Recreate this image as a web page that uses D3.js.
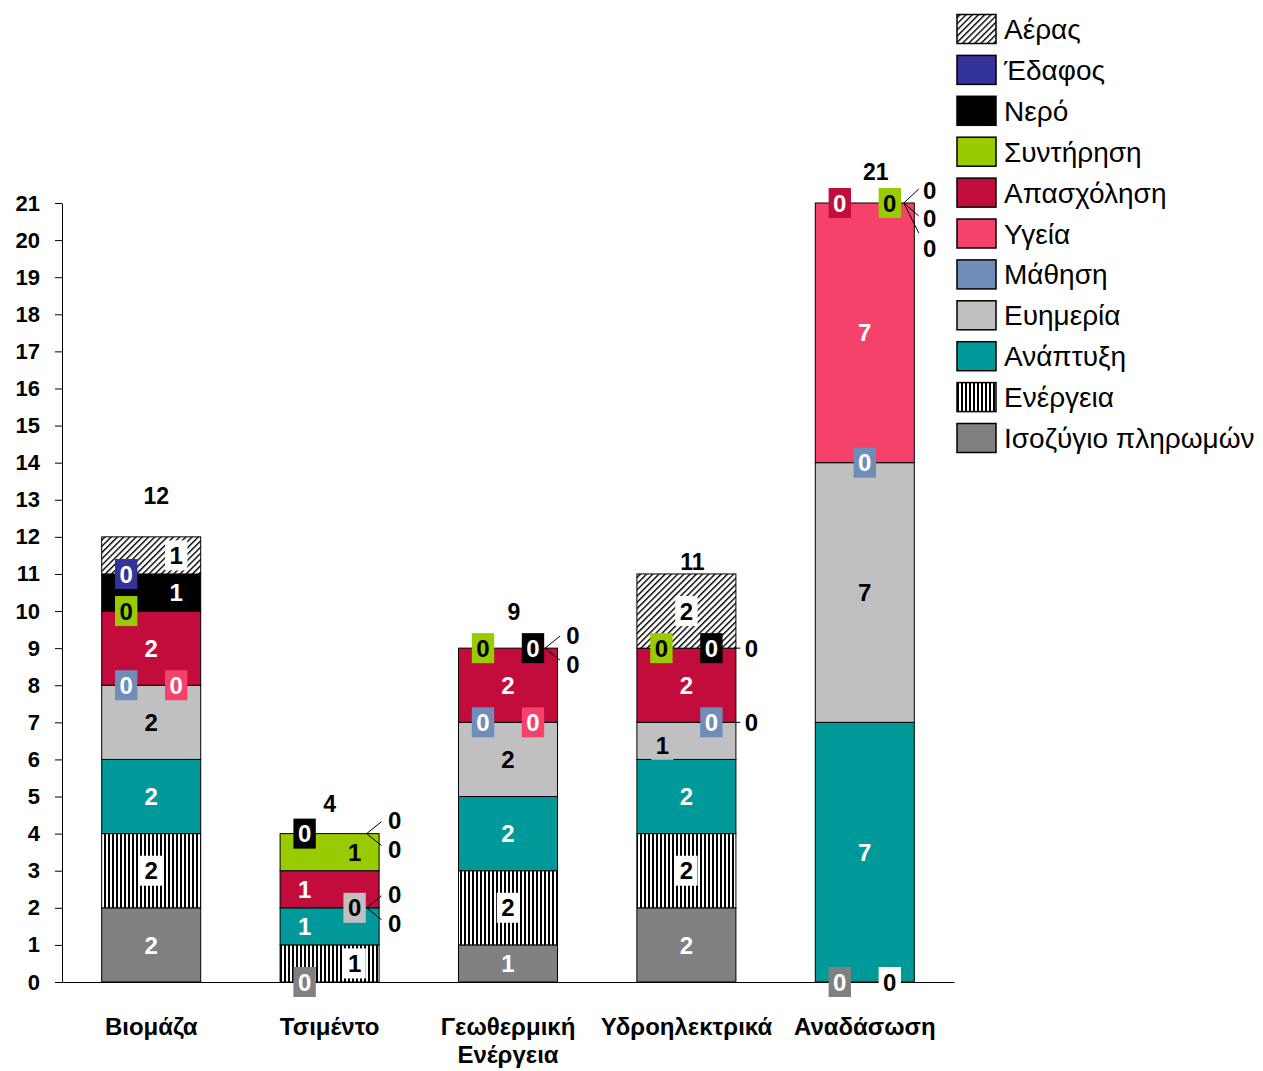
<!DOCTYPE html>
<html>
<head>
<meta charset="utf-8">
<script src="https://cdn.jsdelivr.net/npm/d3@7"></script>
<style>
  html, body { margin: 0; padding: 0; background: #fff; }
  svg { display: block; font-family: Arial, "Liberation Sans", Helvetica, sans-serif; }
</style>
</head>
<body>
<svg id="chart" width="1263" height="1071"></svg>
<script>
// ---- data -------------------------------------------------------------
const categories = ["Βιομάζα", "Τσιμέντο", "Γεωθερμική Ενέργεια", "Υδροηλεκτρικά", "Αναδάσωση"];

// stack order, bottom to top
const seriesNames = ["Ισοζύγιο πληρωμών", "Ενέργεια", "Ανάπτυξη", "Ευημερία", "Μάθηση",
                     "Υγεία", "Απασχόληση", "Συντήρηση", "Νερό", "Έδαφος", "Αέρας"];

const balanceOfPayments = [2, 0, 1, 2, 0];
const energy            = [2, 1, 2, 2, 0];
const development       = [2, 1, 2, 2, 7];
const wellbeing         = [2, 0, 2, 1, 7];
const learning          = [0, 0, 0, 0, 0];
const health            = [0, 0, 0, 0, 7];
const employment        = [2, 1, 2, 2, 0];
const maintenance       = [0, 1, 0, 0, 0];
const water             = [1, 0, 0, 0, 0];
const soil              = [0, 0, 0, 0, 0];
const air               = [1, 0, 0, 2, 0];

const seriesValues = [balanceOfPayments, energy, development, wellbeing, learning,
                      health, employment, maintenance, water, soil, air];

const yTicks = d3.range(0, 22);

// ---- styles -----------------------------------------------------------
const fills = {
  "Ισοζύγιο πληρωμών": "#808080",
  "Ενέργεια": "url(#vstripes)",
  "Ανάπτυξη": "#009999",
  "Ευημερία": "#c0c0c0",
  "Μάθηση": "#6f8db9",
  "Υγεία": "#f4426b",
  "Απασχόληση": "#c20c3c",
  "Συντήρηση": "#99cc00",
  "Νερό": "#000000",
  "Έδαφος": "#333399",
  "Αέρας": "url(#hatch)"
};
// background behind a value label (patterned series get white)
const labelBg = Object.fromEntries(seriesNames.map(s =>
  [s, fills[s].startsWith("url") ? "#ffffff" : fills[s]]));
const labelInk = {
  "Ισοζύγιο πληρωμών": "#fff", "Ενέργεια": "#000", "Ανάπτυξη": "#fff", "Ευημερία": "#000",
  "Μάθηση": "#fff", "Υγεία": "#fff", "Απασχόληση": "#fff", "Συντήρηση": "#000",
  "Νερό": "#fff", "Έδαφος": "#fff", "Αέρας": "#000"
};

// where each value label sits, per category, in stack order
const spots = {
  c:   { dx: 0,   dy: 0 },
  l:   { dx: -25, dy: 0 },
  l4:  { dx: -24, dy: 4 },
  r:   { dx: 25,  dy: 0 },
  f2a: { dx: 65, dy: -13, lead: [37, 0, 52, -12] },
  f2b: { dx: 65, dy: 16,  lead: [37, 0, 52, 12] },
  h:   { dx: 65, dy: 0,   lead: [49, 0, 54, 0] },
  f3a: { dx: 65, dy: -13, lead: [39, 0, 54, -14] },
  f3b: { dx: 65, dy: 15,  lead: [39, 0, 54, 13] },
  f3c: { dx: 65, dy: 45,  lead: [39, 0, 54, 30] }
};
const labelSpots = [
  ["c", "c", "c", "c", "l", "r", "c", "l", "r", "l", "r"],
  ["l", "r", "l", "r", "f2a", "f2b", "l", "r", "l", "f2a", "f2b"],
  ["c", "c", "c", "c", "l", "r", "c", "l", "r", "f2a", "f2b"],
  ["c", "c", "c", "l4", "r", "h", "c", "l", "r", "h", "c"],
  ["l", "r", "c", "c", "c", "c", "l", "r", "f3a", "f3b", "f3c"]
];
// offsets of the total labels from the bar's top centre
const totalLift = [41, 30, 36, 12, 31];
const totalShift = [5, 0, 6, 6, 11];

// ---- layout -----------------------------------------------------------
const svg = d3.select("#chart");
const plot = { left: 62, right: 954, top: 203, bottom: 982 };

const x = d3.scaleBand().domain(categories)
  .range([plot.left, plot.right]).paddingInner(0.445).paddingOuter(0.2225);
const y = d3.scaleLinear().domain([0, d3.max(yTicks)]).range([plot.bottom, plot.top]);

// patterns
const defs = svg.append("defs");
const hatch = defs.append("pattern").attr("id", "hatch")
  .attr("patternUnits", "userSpaceOnUse").attr("width", 4.4).attr("height", 4.4)
  .attr("patternTransform", "rotate(45)");
hatch.append("rect").attr("width", 4.4).attr("height", 4.4).attr("fill", "#fff");
hatch.append("rect").attr("width", 1.4).attr("height", 4.4).attr("fill", "#000");

const stripes = defs.append("pattern").attr("id", "vstripes")
  .attr("patternUnits", "userSpaceOnUse").attr("width", 4).attr("height", 4);
stripes.append("rect").attr("width", 4).attr("height", 4).attr("fill", "#fff");
stripes.append("rect").attr("width", 2).attr("height", 4).attr("fill", "#000");

// stacked data
const rows = categories.map((c, j) => {
  const r = { category: c };
  seriesNames.forEach((s, i) => { r[s] = seriesValues[i][j]; });
  return r;
});
const stacked = d3.stack().keys(seriesNames)(rows);

// bars
const barsG = svg.append("g");
stacked.forEach(layer => {
  barsG.append("g").selectAll("rect")
    .data(layer.filter(d => d[1] > d[0]))
    .join("rect")
    .attr("x", d => x(d.data.category))
    .attr("y", d => y(d[1]))
    .attr("width", x.bandwidth())
    .attr("height", d => y(d[0]) - y(d[1]))
    .attr("fill", fills[layer.key])
    .attr("stroke", "#000")
    .attr("stroke-width", 1);
});

// axes
const yAxis = d3.axisLeft(y).tickValues(yTicks).tickSize(7).tickSizeOuter(0).tickPadding(15);
svg.append("g").attr("transform", `translate(${plot.left},0)`).call(yAxis)
  .attr("font-family", null).attr("font-size", 22).attr("font-weight", "bold")
  .call(g => g.select(".domain").attr("stroke", "#000"))
  .call(g => g.selectAll(".tick line").attr("stroke", "#000"))
  .call(g => g.selectAll(".tick text").attr("fill", "#000"));

const xAxis = d3.axisBottom(x).tickSize(0).tickSizeOuter(0).tickPadding(36);
svg.append("g").attr("transform", `translate(0,${plot.bottom})`).call(xAxis)
  .attr("font-family", null).attr("font-size", 24).attr("font-weight", "bold")
  .call(g => g.select(".domain").attr("stroke", "#000"))
  .call(g => g.selectAll(".tick text").attr("fill", "#000").call(wrap, x.step() - 6));

function wrap(texts, width) {
  texts.each(function () {
    const text = d3.select(this);
    const words = text.text().split(/\s+/);
    const yy = text.attr("y"), dy = parseFloat(text.attr("dy"));
    text.text(null);
    let line = [], lineNo = 0;
    let tspan = text.append("tspan").attr("x", 0).attr("y", yy).attr("dy", dy + "em");
    words.forEach(w => {
      line.push(w);
      tspan.text(line.join(" "));
      if (tspan.node().getComputedTextLength() > width && line.length > 1) {
        line.pop();
        tspan.text(line.join(" "));
        line = [w];
        lineNo++;
        tspan = text.append("tspan").attr("x", 0).attr("y", yy)
          .attr("dy", (dy + lineNo * 1.17) + "em").text(w);
      }
    });
  });
}

// value labels
const labelsG = svg.append("g").attr("font-size", 24).attr("font-weight", "bold");
stacked.forEach((layer, i) => {
  const s = layer.key;
  layer.forEach((d, j) => {
    const sp = spots[labelSpots[j][i]];
    const cx = x(d.data.category) + x.bandwidth() / 2;
    const cy = y((d[0] + d[1]) / 2);
    const value = seriesValues[i][j];
    if (sp.lead) {
      const [x1, y1, x2, y2] = sp.lead;
      labelsG.append("line")
        .attr("x1", cx + x1).attr("y1", cy + y1)
        .attr("x2", cx + x2).attr("y2", cy + y2)
        .attr("stroke", "#000").attr("stroke-width", 1);
      labelsG.append("text").attr("x", cx + sp.dx).attr("y", cy + sp.dy)
        .attr("dy", "0.36em").attr("text-anchor", "middle").attr("fill", "#000")
        .text(value);
    } else {
      const g = labelsG.append("g");
      const rect = g.append("rect");
      const t = g.append("text").attr("x", cx + sp.dx).attr("y", cy + sp.dy)
        .attr("dy", "0.36em").attr("text-anchor", "middle").attr("fill", labelInk[s])
        .text(value);
      const w = t.node().getComputedTextLength() + 9;
      rect.attr("x", cx + sp.dx - w / 2).attr("y", cy + sp.dy - 15)
        .attr("width", w).attr("height", 30).attr("fill", labelBg[s]);
    }
  });
});

// totals above each bar
const totals = categories.map((c, j) => d3.sum(seriesValues, v => v[j]));
svg.append("g").attr("font-size", 23).attr("font-weight", "bold")
  .selectAll("text").data(categories).join("text")
  .attr("x", (c, j) => x(c) + x.bandwidth() / 2 + totalShift[j])
  .attr("y", (c, j) => y(totals[j]) - totalLift[j])
  .attr("dy", "0.36em").attr("text-anchor", "middle").attr("fill", "#000")
  .text((c, j) => totals[j]);

// legend, top of stack first
const legend = svg.append("g").attr("transform", "translate(957,29)");
const legendItems = legend.selectAll("g").data(seriesNames.slice().reverse()).join("g")
  .attr("transform", (s, k) => `translate(0,${k * 40.9})`);
legendItems.append("rect")
  .attr("x", 0).attr("y", -14.5).attr("width", 39).attr("height", 29)
  .attr("fill", s => fills[s]).attr("stroke", "#000").attr("stroke-width", 1.5);
legendItems.append("text")
  .attr("x", 47).attr("y", 0).attr("dy", "0.36em")
  .attr("font-size", 28).attr("fill", "#000")
  .text(s => s);
</script>
</body>
</html>
